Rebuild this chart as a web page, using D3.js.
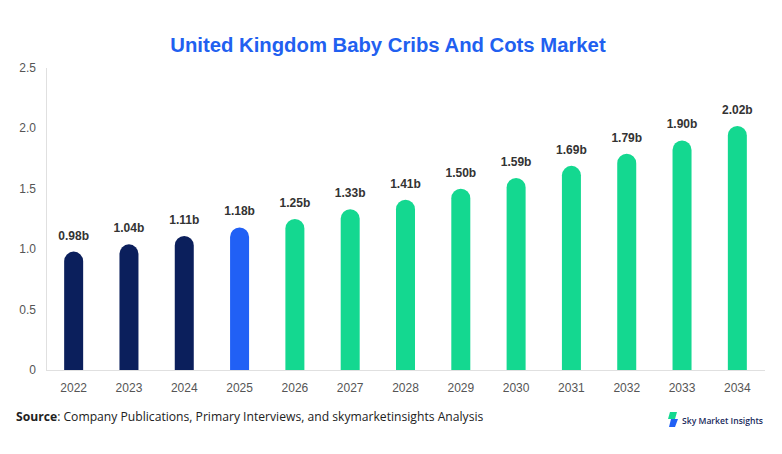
<!DOCTYPE html>
<html><head><meta charset="utf-8">
<script src="https://cdn.jsdelivr.net/npm/d3@7"></script>
<style>body{margin:0;background:#fff}svg{display:block}</style>
</head><body><svg id="c" width="782" height="454"></svg>
<script>
const years = ["2022","2023","2024","2025","2026","2027","2028","2029","2030","2031","2032","2033","2034"];
const values = [0.98,1.04,1.11,1.18,1.25,1.33,1.41,1.50,1.59,1.69,1.79,1.90,2.02];
const labels = ["0.98b","1.04b","1.11b","1.18b","1.25b","1.33b","1.41b","1.50b","1.59b","1.69b","1.79b","1.90b","2.02b"];
const yTicks = [0,0.5,1.0,1.5,2.0,2.5];
const yTickLabels = ["0","0.5","1.0","1.5","2.0","2.5"];
const kinds = ["hist","hist","hist","base","fc","fc","fc","fc","fc","fc","fc","fc","fc"];
const colors = {hist:"#0b1f5c", base:"#2160f5", fc:"#14d890"};

const svg = d3.select("#c");
const m = {l:46, r:765, t:68, b:370};
const x = d3.scaleBand().domain(years).range([m.l, m.r]).padding(0);
const y = d3.scaleLinear().domain([0,2.5]).range([m.b, m.t]);

svg.append("text").attr("x",388).attr("y",52).attr("text-anchor","middle")
  .attr("font-family","Liberation Sans, Arial, sans-serif").attr("font-weight","bold")
  .attr("font-size",20.3).attr("fill","#2160f0").text("United Kingdom Baby Cribs And Cots Market");

// axes lines
svg.append("line").attr("x1",m.l+0.5).attr("x2",m.l+0.5).attr("y1",m.t).attr("y2",m.b).attr("stroke","#e0e0e0");
svg.append("line").attr("x1",m.l).attr("x2",m.r).attr("y1",m.b+0.5).attr("y2",m.b+0.5).attr("stroke","#e0e0e0");

svg.append("g").selectAll("text").data(yTicks).join("text")
  .attr("x",36).attr("y",d=>y(d)+4).attr("text-anchor","end")
  .attr("font-family","Liberation Sans, Arial, sans-serif").attr("font-size",12).attr("fill","#555")
  .text((d,i)=>yTickLabels[i]);

svg.append("g").selectAll("text").data(years).join("text")
  .attr("x",d=>x(d)+x.bandwidth()/2).attr("y",392).attr("text-anchor","middle")
  .attr("font-family","Liberation Sans, Arial, sans-serif").attr("font-size",12).attr("fill","#555")
  .text(d=>d);

const bw = 19, r = bw/2;
svg.append("g").selectAll("path").data(values).join("path")
  .attr("fill",(d,i)=>colors[kinds[i]])
  .attr("d",(d,i)=>{
    const cx = x(years[i])+x.bandwidth()/2, x0=cx-bw/2, x1=cx+bw/2, top=y(d), bot=y(0);
    return `M${x0},${bot}L${x0},${top+r}A${r},${r} 0 0 1 ${x1},${top+r}L${x1},${bot}Z`;
  });

svg.append("g").selectAll("text").data(values).join("text")
  .attr("x",(d,i)=>x(years[i])+x.bandwidth()/2).attr("y",d=>y(d)-12).attr("text-anchor","middle")
  .attr("font-family","Liberation Sans, Arial, sans-serif").attr("font-weight","bold")
  .attr("font-size",12).attr("fill","#333").text((d,i)=>labels[i]);

const src = svg.append("text").attr("x",16).attr("y",421)
  .attr("font-family","Open Sans, Noto Sans, sans-serif").attr("font-size",12.15).attr("fill","#222");
src.append("tspan").attr("font-weight","bold").text("Source");
src.append("tspan").text(": Company Publications, Primary Interviews, and skymarketinsights Analysis");

// logo
const lg = svg.append("g");
lg.append("path").attr("d","M670,412 L677,412 L675,419 L668,419 Z").attr("fill","#14d890");
lg.append("path").attr("d","M671,419 L678,419 L675,427 L669,427 Z").attr("fill","#2160f5");
lg.append("text").attr("x",682).attr("y",424).attr("font-family","Open Sans, sans-serif")
  .attr("font-size",8.2).attr("font-weight","600").attr("fill","#1a2a5c")
  .attr("textLength",81).attr("lengthAdjust","spacingAndGlyphs").text("Sky Market Insights");
</script></body></html>
